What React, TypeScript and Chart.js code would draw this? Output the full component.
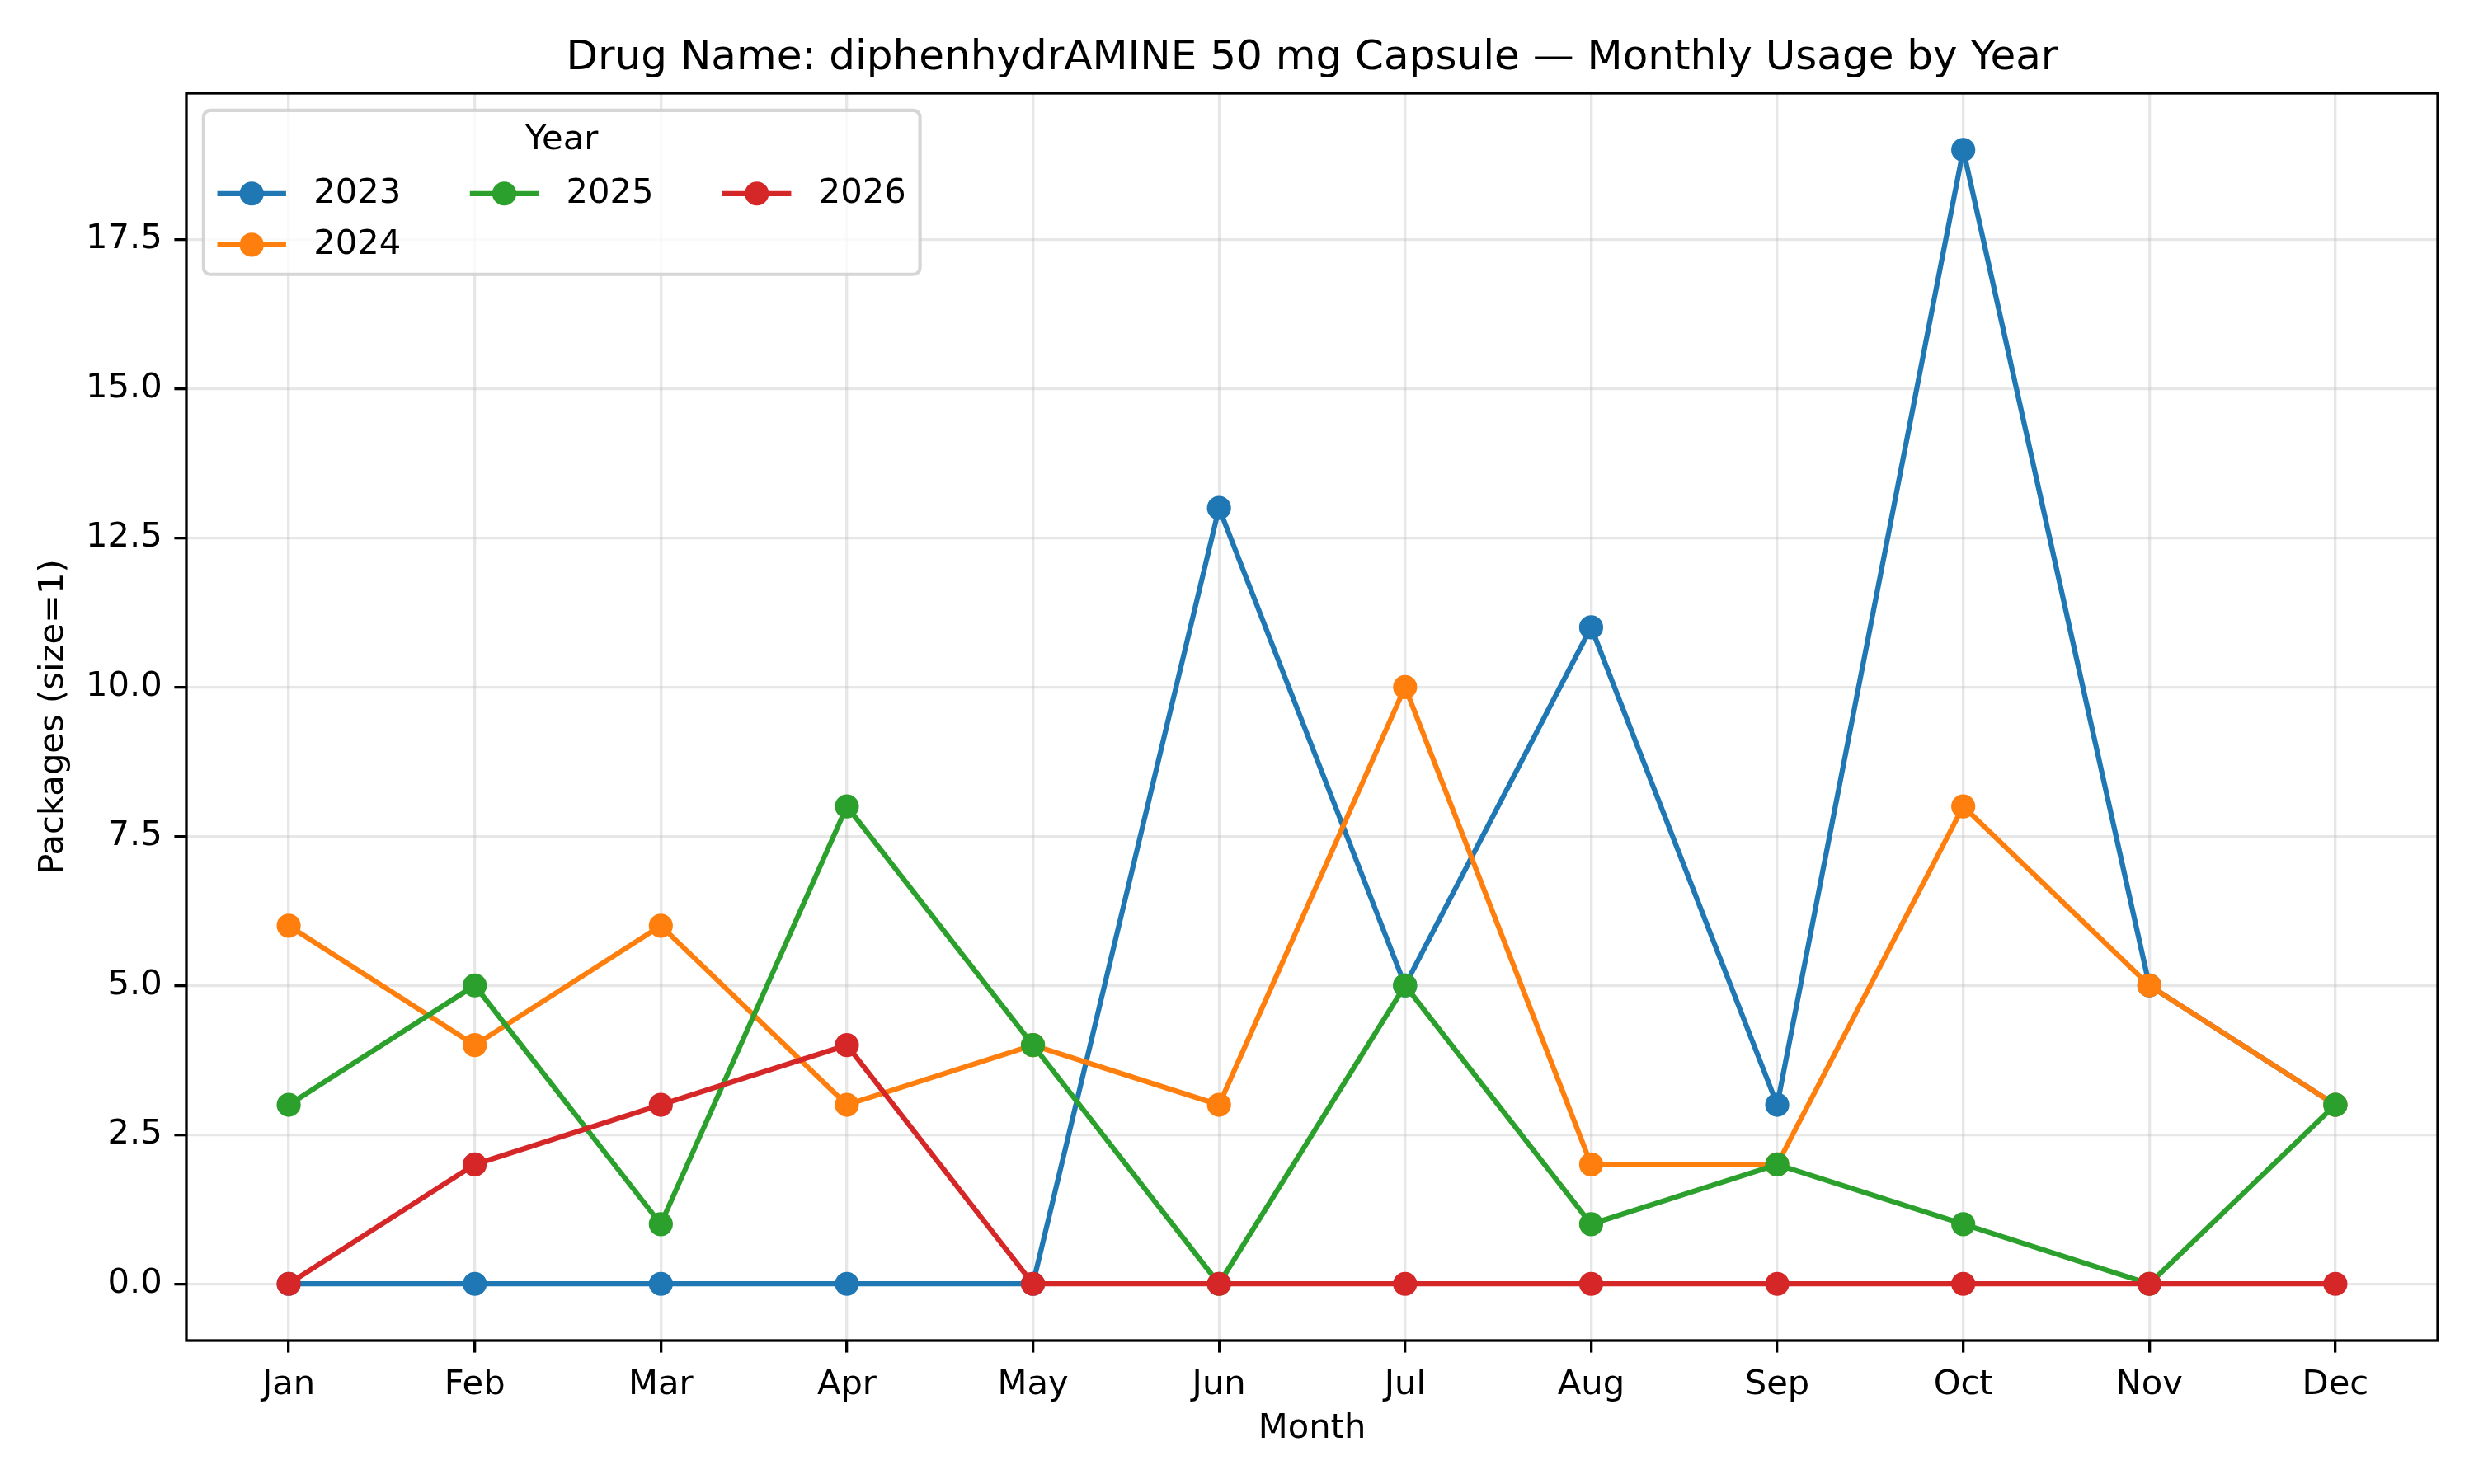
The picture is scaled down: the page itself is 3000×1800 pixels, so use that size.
import React, { useEffect, useRef } from "react";
import { Chart, registerables } from "chart.js";

Chart.register(...registerables);

const FONT = '"DejaVu Sans", sans-serif';
Chart.defaults.font.family = FONT;

const TITLE = "Drug Name: diphenhydrAMINE 50 mg Capsule — Monthly Usage by Year";
const X_TITLE = "Month";
const Y_TITLE = "Packages (size=1)";
const LEGEND_TITLE = "Year";

const MONTHS = ["Jan", "Feb", "Mar", "Apr", "May", "Jun", "Jul", "Aug", "Sep", "Oct", "Nov", "Dec"];
const YEARS = ["2023", "2024", "2025", "2026"];
const USAGE_2023 = [0, 0, 0, 0, 0, 13, 5, 11, 3, 19, 5, 3];
const USAGE_2024 = [6, 4, 6, 3, 4, 3, 10, 2, 2, 8, 5, 3];
const USAGE_2025 = [3, 5, 1, 8, 4, 0, 5, 1, 2, 1, 0, 3];
const USAGE_2026 = [0, 2, 3, 4, 0, 0, 0, 0, 0, 0, 0, 0];
const Y_TICKS = [0, 2.5, 5, 7.5, 10, 12.5, 15, 17.5];
const COLORS = ["#1f77b4", "#ff7f0e", "#2ca02c", "#d62728"];

const SERIES = [USAGE_2023, USAGE_2024, USAGE_2025, USAGE_2026];

const FS = 41.7; // 10pt at 300dpi
const LW = 6.25; // 1.5pt
const SPINE = 3.3;

const framePlugin = {
  id: "mplFrame",
  afterDatasetsDraw(chart: any) {
    const { ctx, chartArea: ca } = chart;
    ctx.save();
    ctx.strokeStyle = "#000";
    ctx.lineWidth = SPINE;
    ctx.strokeRect(ca.left, ca.top, ca.right - ca.left, ca.bottom - ca.top);
    ctx.restore();
  },
};

const legendPlugin = {
  id: "mplLegend",
  afterDraw(chart: any) {
    const { ctx, chartArea: ca } = chart;
    const ds = chart.data.datasets;
    const ncol = 3;
    const n = ds.length;
    const base = Math.floor(n / ncol);
    const large = n % ncol;
    const rowsPerCol: number[] = [];
    for (let c = 0; c < ncol; c++) rowsPerCol.push(c < large ? base + 1 : base);
    const cols: number[][] = [];
    let k = 0;
    for (let c = 0; c < ncol; c++) {
      const col: number[] = [];
      for (let r = 0; r < rowsPerCol[c]; r++) col.push(k++);
      cols.push(col);
    }
    ctx.save();
    ctx.font = `${FS}px ${FONT}`;
    const pad = 0.4 * FS;
    const handleLen = 2 * FS;
    const htPad = 0.8 * FS;
    const colSp = 2 * FS;
    const colW = cols.map(
      (col) => handleLen + htPad + Math.max(0, ...col.map((i) => ctx.measureText(ds[i].label).width))
    );
    const boxW = 2 * pad + colW.reduce((a, b) => a + b, 0) + colSp * (ncol - 1);
    const boxH = 4.77 * FS;
    const left = ca.left + 0.5 * FS;
    const top = ca.top + 0.5 * FS;

    ctx.beginPath();
    ctx.roundRect(left, top, boxW, boxH, 8);
    ctx.fillStyle = "rgba(255,255,255,0.8)";
    ctx.fill();
    ctx.strokeStyle = "rgba(204,204,204,0.8)";
    ctx.lineWidth = 4.2;
    ctx.stroke();

    ctx.fillStyle = "#000";
    ctx.textBaseline = "middle";
    ctx.textAlign = "center";
    ctx.fillText(LEGEND_TITLE, left + boxW / 2, top + 0.88 * FS);

    let x = left + pad;
    cols.forEach((col, c) => {
      col.forEach((i, r) => {
        const y = top + 2.42 * FS + r * 1.49 * FS;
        const color = ds[i].borderColor;
        ctx.strokeStyle = color;
        ctx.lineWidth = LW;
        ctx.beginPath();
        ctx.moveTo(x, y);
        ctx.lineTo(x + handleLen, y);
        ctx.stroke();
        ctx.beginPath();
        ctx.arc(x + handleLen / 2, y, 14.6, 0, Math.PI * 2);
        ctx.fillStyle = color;
        ctx.fill();
        ctx.fillStyle = "#000";
        ctx.textAlign = "left";
        ctx.fillText(ds[i].label, x + handleLen + htPad, y);
      });
      x += colW[c] + colSp;
    });
    ctx.restore();
  },
};

export default function App() {
  const ref = useRef<HTMLCanvasElement>(null);
  useEffect(() => {
    const datasets = YEARS.map((year, si) => ({
      label: year,
      data: SERIES[si].map((v, i) => ({ x: i, y: v })),
      borderColor: COLORS[si],
      backgroundColor: COLORS[si],
      pointBackgroundColor: COLORS[si],
      pointBorderColor: COLORS[si],
      borderWidth: LW,
      pointRadius: 12.5,
      pointBorderWidth: 4.2,
      tension: 0,
      fill: false,
      order: YEARS.length - 1 - si,
    }));
    const gridCfg = {
      color: "rgba(176,176,176,0.3)",
      lineWidth: SPINE,
      tickColor: "#000",
      tickWidth: SPINE,
      tickLength: 14.6,
      drawTicks: true,
    };
    const chart = new Chart(ref.current as HTMLCanvasElement, {
      type: "line",
      data: { datasets },
      options: {
        responsive: false,
        animation: false,
        devicePixelRatio: 1,
        layout: { padding: { left: 0, right: 44, top: 0, bottom: 0 } },
        plugins: {
          legend: { display: false },
          tooltip: { enabled: false },
          title: {
            display: true,
            text: TITLE,
            fullSize: false,
            color: "#000",
            font: { size: 50, weight: "normal", family: FONT },
            padding: { top: 41, bottom: 12 },
          },
        },
        scales: {
          x: {
            type: "linear",
            min: -0.55,
            max: 11.55,
            afterBuildTicks: (s: any) => {
              s.ticks = MONTHS.map((_, i) => ({ value: i }));
            },
            afterFit: (s: any) => {
              s.height = 174;
              s.paddingLeft = 0;
              s.paddingRight = 0;
              s.paddingTop = 0;
              s.paddingBottom = 0;
            },
            ticks: {
              callback: (v: any) => MONTHS[v as number],
              color: "#000",
              font: { size: FS },
              padding: 14.6,
              maxRotation: 0,
              autoSkip: false,
            },
            grid: gridCfg,
            border: { display: false },
            title: {
              display: true,
              text: X_TITLE,
              color: "#000",
              font: { size: FS },
              padding: { top: 0, bottom: 42 },
            },
          },
          y: {
            type: "linear",
            min: -0.95,
            max: 19.95,
            afterBuildTicks: (s: any) => {
              s.ticks = Y_TICKS.map((v) => ({ value: v }));
            },
            afterFit: (s: any) => {
              s.width = 226;
              s.paddingLeft = 0;
              s.paddingRight = 0;
              s.paddingTop = 0;
              s.paddingBottom = 0;
            },
            ticks: {
              callback: (v: any) => Number(v).toFixed(1),
              color: "#000",
              font: { size: FS },
              padding: 14.6,
            },
            grid: gridCfg,
            border: { display: false },
            title: {
              display: true,
              text: Y_TITLE,
              color: "#000",
              font: { size: FS },
              padding: { top: 40, bottom: 0 },
            },
          },
        },
      },
      plugins: [framePlugin, legendPlugin],
    } as any);
    return () => chart.destroy();
  }, []);
  return (
    <div style={{ position: "absolute", left: 0, top: 0, width: 3000, height: 1800, background: "#fff" }}>
      <canvas ref={ref} width={3000} height={1800} style={{ width: 3000, height: 1800, display: "block" }} />
    </div>
  );
}
